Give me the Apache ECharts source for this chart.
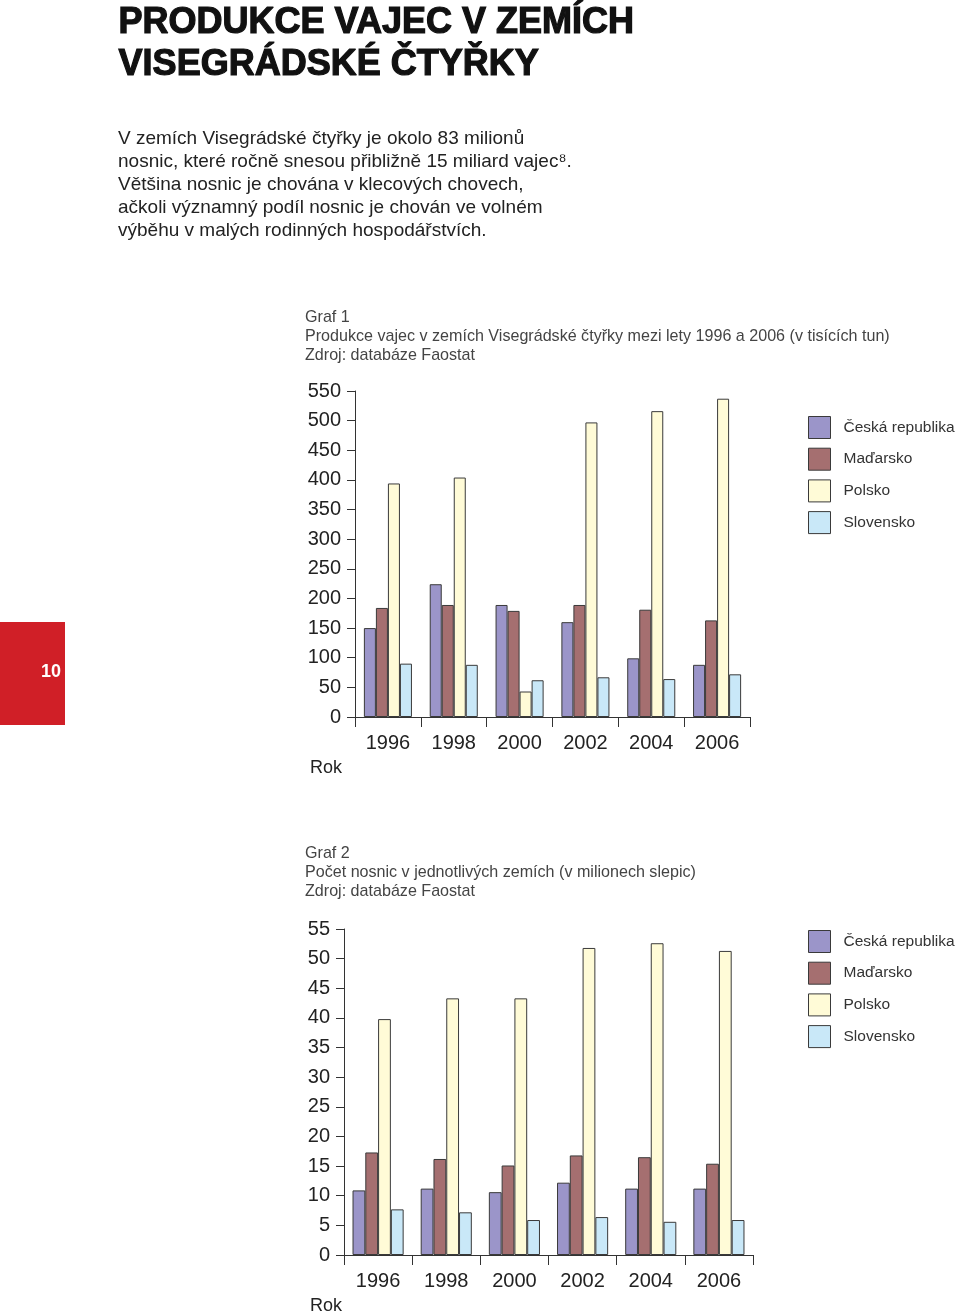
<!DOCTYPE html>
<html>
<head>
<meta charset="utf-8">
<script src="https://cdn.jsdelivr.net/npm/echarts@6/dist/echarts.min.js"></script>
<style>
html,body{margin:0;padding:0;background:#fff;}
#c{width:960px;height:1313px;}
</style>
</head>
<body>
<div id="c"></div>
<script>
const years = ['1996', '1998', '2000', '2002', '2004', '2006'];
const countries = ['Česká republika', 'Maďarsko', 'Polsko', 'Slovensko'];
const colors = ['#9b95c9', '#a56f70', '#fffbd7', '#c9e8f8'];

// Graf 1: production of eggs (thousand tonnes)
const prodCZ = [150, 224, 189, 160, 99, 88];
const prodHU = [184, 189, 179, 189, 181, 163];
const prodPL = [394, 404, 43, 497, 516, 537];
const prodSK = [90, 88, 62, 67, 64, 72];

// Graf 2: laying hens (millions)
const hensCZ = [10.9, 11.2, 10.6, 12.2, 11.2, 11.2];
const hensHU = [17.3, 16.2, 15.1, 16.8, 16.5, 15.4];
const hensPL = [39.8, 43.3, 43.3, 51.8, 52.6, 51.3];
const hensSK = [7.7, 7.2, 5.9, 6.4, 5.6, 5.9];

const yTicks1 = {min: 0, max: 550, interval: 50};
const yTicks2 = {min: 0, max: 55, interval: 5};

const FONT = '"Liberation Sans", Arial, sans-serif';
const chart = echarts.init(document.getElementById('c'), null, {renderer: 'canvas'});

function mkSeries(name, data, idx, gi) {
  return {
    type: 'bar', name: name, data: data,
    xAxisIndex: gi, yAxisIndex: gi,
    barGap: '0%', barCategoryGap: gi === 0 ? '27%' : '25%',
    itemStyle: {color: colors[idx], borderColor: '#3a3a3a', borderWidth: 1},
    emphasis: {disabled: true},
    animation: false
  };
}

function mkX(gi) {
  return {
    type: 'category', gridIndex: gi, data: years,
    axisLine: {lineStyle: {color: '#333', width: 1}},
    axisTick: {show: true, interval: 0, length: 10, lineStyle: {color: '#333'}},
    axisLabel: {fontSize: 20, color: '#222', fontFamily: FONT, margin: 16}
  };
}
function mkY(gi, t) {
  return {
    type: 'value', gridIndex: gi, min: t.min, max: t.max, interval: t.interval,
    axisLine: {show: true, lineStyle: {color: '#333', width: 1}},
    axisTick: {show: true, length: 8, lineStyle: {color: '#333'}},
    splitLine: {show: false},
    axisLabel: {fontSize: 20, color: '#222', fontFamily: FONT, margin: 14}
  };
}
function mkLegend(top) {
  return {
    orient: 'vertical', left: 808, top: top, padding: 0,
    data: countries, icon: 'rect', itemWidth: 22, itemHeight: 22, itemGap: 8.7,
    selectedMode: false,
    itemStyle: {borderColor: '#3a3a3a', borderWidth: 1},
    textStyle: {fontSize: 15.5, color: '#333', fontFamily: FONT, padding: [0, 0, 0, 8]}
  };
}

const texts = [
  {x: 118, y: 4, t: 'PRODUKCE VAJEC V ZEMÍCH'},
  {x: 118, y: 46, t: 'VISEGRÁDSKÉ ČTYŘKY'},
];
const para = [
  'V zemích Visegrádské čtyřky je okolo 83 milionů',
  'nosnic, které ročně snesou přibližně 15 miliard vajec⁸.',
  'Většina nosnic je chována v klecových chovech,',
  'ačkoli významný podíl nosnic je chován ve volném',
  'výběhu v malých rodinných hospodářstvích.'
];
const cap1 = ['Graf 1', 'Produkce vajec v zemích Visegrádské čtyřky mezi lety 1996 a 2006 (v tisících tun)', 'Zdroj: databáze Faostat'];
const cap2 = ['Graf 2', 'Počet nosnic v jednotlivých zemích (v milionech slepic)', 'Zdroj: databáze Faostat'];

const graphics = [];
texts.forEach(o => graphics.push({type: 'text', left: o.x, top: o.y, style: {text: o.t, fontSize: 36, fontWeight: 'bold', fill: '#111', stroke: '#111', lineWidth: 1.2, fontFamily: FONT}}));
para.forEach((l, i) => graphics.push({type: 'text', left: 118, top: 129 + i * 23, style: {text: l, fontSize: 19, fill: '#222', fontFamily: FONT}}));
cap1.forEach((l, i) => graphics.push({type: 'text', left: 305, top: 310 + i * 19, style: {text: l, fontSize: 16.1, fill: '#444', fontFamily: FONT}}));
cap2.forEach((l, i) => graphics.push({type: 'text', left: 305, top: 846 + i * 19, style: {text: l, fontSize: 16.1, fill: '#444', fontFamily: FONT}}));
graphics.push({type: 'text', left: 310, top: 759, style: {text: 'Rok', fontSize: 18, fill: '#222', fontFamily: FONT}});
graphics.push({type: 'text', left: 310, top: 1297, style: {text: 'Rok', fontSize: 18, fill: '#222', fontFamily: FONT}});
graphics.push({type: 'rect', left: 0, top: 622, shape: {width: 65, height: 103}, style: {fill: '#d01f27'}});
graphics.push({type: 'text', left: 41, top: 663, style: {text: '10', fontSize: 18, fontWeight: 'bold', fill: '#fff', fontFamily: FONT}});

chart.setOption({
  animation: false,
  backgroundColor: '#fff',
  grid: [
    {left: 355, top: 391, width: 395, height: 326},
    {left: 344, top: 929, width: 409, height: 326}
  ],
  xAxis: [mkX(0), mkX(1)],
  yAxis: [mkY(0, yTicks1), mkY(1, yTicks2)],
  legend: [mkLegend(416), mkLegend(930)],
  graphic: graphics,
  series: [
    mkSeries(countries[0], prodCZ, 0, 0),
    mkSeries(countries[1], prodHU, 1, 0),
    mkSeries(countries[2], prodPL, 2, 0),
    mkSeries(countries[3], prodSK, 3, 0),
    mkSeries(countries[0], hensCZ, 0, 1),
    mkSeries(countries[1], hensHU, 1, 1),
    mkSeries(countries[2], hensPL, 2, 1),
    mkSeries(countries[3], hensSK, 3, 1)
  ]
});
</script>
</body>
</html>
